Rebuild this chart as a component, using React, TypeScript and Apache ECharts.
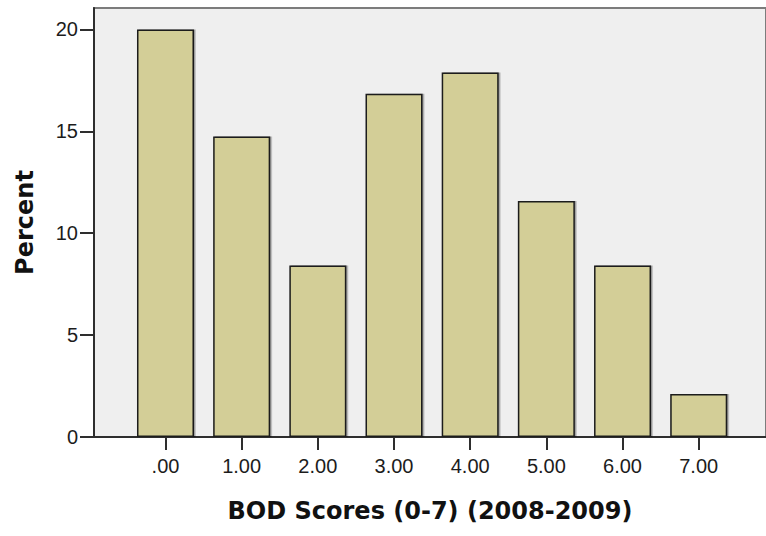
import React, { useEffect, useRef } from "react";
import * as echarts from "echarts";

const categories = [".00", "1.00", "2.00", "3.00", "4.00", "5.00", "6.00", "7.00"];
const percentValues = [20.0, 14.74, 8.42, 16.84, 17.89, 11.58, 8.42, 2.11];
const yTickValues = [0, 5, 10, 15, 20];
const yMax = 21.05;
const xTitle = "BOD Scores (0-7) (2008-2009)";
const yTitle = "Percent";

export default function App() {
  const ref = useRef<HTMLDivElement>(null);
  useEffect(() => {
    if (!ref.current) return;
    const chart = echarts.init(ref.current, undefined, { renderer: "svg" });
    const axisColor = "#2e2e2e";
    chart.setOption({
      animation: false,
      backgroundColor: "#ffffff",
      grid: [
        {
          left: 94,
          right: -4,
          top: 8,
          bottom: 99,
          show: true,
          backgroundColor: "#efefef",
          borderColor: "#7c7c7c",
          borderWidth: 2,
        },
        {
          left: 127.4,
          right: 29.2,
          top: 8,
          bottom: 99,
          show: false,
        },
      ],
      xAxis: [
        {
          gridIndex: 0,
          type: "value",
          min: 0,
          max: 1,
          axisLine: { show: true, lineStyle: { color: axisColor, width: 2 } },
          axisTick: { show: false },
          axisLabel: { show: false },
          splitLine: { show: false },
          name: xTitle,
          nameLocation: "middle",
          nameGap: 62,
          nameTextStyle: {
            fontFamily: "DejaVu Sans",
            fontWeight: "bold",
            fontSize: 24,
            color: "#111111",
          },
        },
        {
          gridIndex: 1,
          type: "category",
          data: categories,
          boundaryGap: true,
          axisLine: { show: false },
          axisTick: {
            show: true,
            alignWithLabel: true,
            length: 13,
            lineStyle: { color: axisColor, width: 2 },
          },
          axisLabel: {
            fontFamily: "Liberation Sans",
            fontSize: 20,
            color: "#1c1c1c",
            margin: 19,
          },
          splitLine: { show: false },
        },
      ],
      yAxis: [
        {
          gridIndex: 0,
          type: "value",
          min: 0,
          max: yMax,
          interval: 5,
          axisLine: { show: true, lineStyle: { color: axisColor, width: 2 } },
          axisTick: {
            show: true,
            length: 14,
            customValues: yTickValues,
            lineStyle: { color: axisColor, width: 2 },
          },
          axisLabel: {
            customValues: yTickValues,
            fontFamily: "Liberation Sans",
            fontSize: 20,
            color: "#1c1c1c",
            margin: 16,
            formatter: (v: number) => (v % 5 === 0 ? String(v) : ""),
          },
          splitLine: { show: false },
          name: yTitle,
          nameLocation: "middle",
          nameRotate: 90,
          nameGap: 57,
          nameTextStyle: {
            fontFamily: "DejaVu Sans",
            fontWeight: "bold",
            fontSize: 24,
            color: "#111111",
          },
        },
        {
          gridIndex: 1,
          type: "value",
          min: 0,
          max: yMax,
          show: false,
          splitLine: { show: false },
        },
      ],
      series: [
        {
          type: "bar",
          xAxisIndex: 1,
          yAxisIndex: 1,
          data: percentValues,
          barWidth: 57,
          itemStyle: {
            color: "#d3ce97",
            borderColor: "#1a1a1a",
            borderWidth: 1.5,
            shadowColor: "rgba(0,0,0,0.35)",
            shadowOffsetX: 1.5,
            shadowOffsetY: 0,
            shadowBlur: 1.5,
          },
        },
      ],
    });
    return () => chart.dispose();
  }, []);
  return (
    <div
      ref={ref}
      style={{ position: "fixed", left: 0, top: 0, width: 766, height: 536 }}
    />
  );
}
